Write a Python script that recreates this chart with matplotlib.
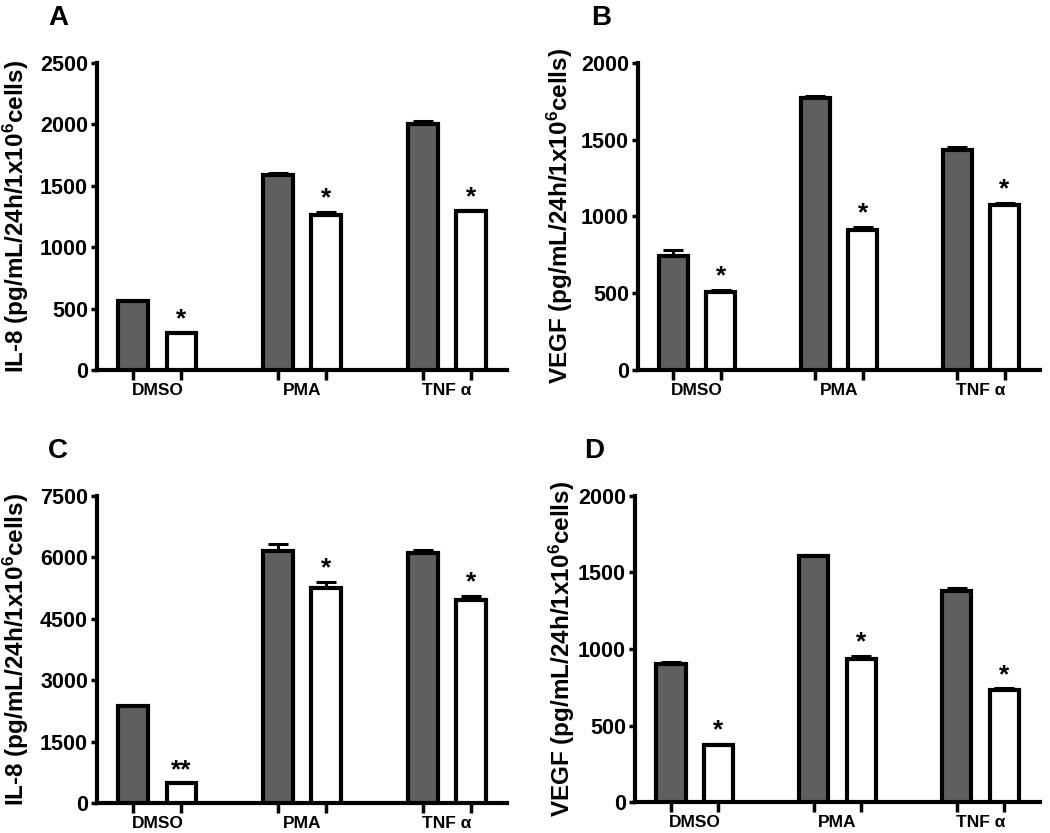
import numpy as np
import matplotlib
matplotlib.use("Agg")
import matplotlib.pyplot as plt

plt.rcParams['font.family'] = ['Liberation Sans', 'DejaVu Sans']
plt.rcParams['font.weight'] = 'bold'
plt.rcParams['mathtext.default'] = 'regular'

groups = ['DMSO', 'PMA', 'TNF α']

# panel A: IL-8
a_gray = [560, 1590, 2000]
a_gray_err = [0, 15, 25]
a_white = [305, 1265, 1295]
a_white_err = [0, 25, 5]
a_marks = ['*', '*', '*']

# panel B: VEGF
b_gray = [740, 1770, 1430]
b_gray_err = [40, 15, 25]
b_white = [508, 912, 1075]
b_white_err = [12, 20, 12]
b_marks = ['*', '*', '*']

# panel C: IL-8
c_gray = [2375, 6150, 6095]
c_gray_err = [0, 170, 95]
c_white = [480, 5255, 4955]
c_white_err = [0, 150, 100]
c_marks = ['**', '*', '*']

# panel D: VEGF
d_gray = [905, 1605, 1382]
d_gray_err = [8, 10, 15]
d_white = [372, 937, 732]
d_white_err = [8, 15, 10]
d_marks = ['*', '*', '*']

il8_label = 'IL-8 (pg/mL/24h/1x10$^6$cells)'
vegf_label = 'VEGF (pg/mL/24h/1x10$^6$cells)'

fig = plt.figure(figsize=(10.5, 8.33), dpi=100)

panels = [
    ('A', [0.0924, 0.5558, 0.3906, 0.3686], a_gray, a_gray_err, a_white, a_white_err, a_marks,
     2500, [0, 500, 1000, 1500, 2000, 2500], il8_label, (48, 25), -0.161),
    ('B', [0.6076, 0.5558, 0.3829, 0.3686], b_gray, b_gray_err, b_white, b_white_err, b_marks,
     2000, [0, 500, 1000, 1500, 2000], vegf_label, (591, 25), -0.157),
    ('C', [0.0924, 0.0360, 0.3906, 0.3686], c_gray, c_gray_err, c_white, c_white_err, c_marks,
     7500, [0, 1500, 3000, 4500, 6000, 7500], il8_label, (48, 458), -0.161),
    ('D', [0.6048, 0.0372, 0.3857, 0.3674], d_gray, d_gray_err, d_white, d_white_err, d_marks,
     2000, [0, 500, 1000, 1500, 2000], vegf_label, (584, 458), -0.143),
]

lw = 3.0
for letter, rect, gray, gerr, white, werr, marks, ymax, yticks, ylab, lpos, lx in panels:
    ax = fig.add_axes(rect)
    x = np.arange(len(groups)) * 3
    w = 0.62
    zeros = np.zeros(len(groups))
    ax.bar(x, gray, w, color='#5f5f5f', edgecolor='black', linewidth=lw, zorder=3)
    ax.bar(x + 1, white, w, color='white', edgecolor='black', linewidth=lw, zorder=3)
    ax.errorbar(x, gray, yerr=[zeros, gerr], fmt='none', ecolor='black',
                elinewidth=2.2, capsize=7, capthick=2.2, zorder=2)
    ax.errorbar(x + 1, white, yerr=[zeros, werr], fmt='none', ecolor='black',
                elinewidth=2.2, capsize=7, capthick=2.2, zorder=2)
    for xi, v, e, m in zip(x + 1, white, werr, marks):
        ax.text(xi, v + e + ymax * 0.005, m, ha='center', va='bottom',
                fontsize=19, fontweight='bold')

    ax.set_xlim(-0.75, 7.75)
    ax.set_ylim(0, ymax)
    ax.set_yticks(yticks)
    ax.set_xticks(np.concatenate([x, x + 1]))
    ax.set_xticklabels([])
    ax.set_xticks(x + 0.5, minor=True)
    ax.set_xticklabels(groups, minor=True, fontsize=12.5, fontweight='bold')
    ax.tick_params(axis='x', which='major', direction='out', length=7, width=2.5)
    ax.tick_params(axis='x', which='minor', length=0, pad=9)
    ax.tick_params(axis='y', direction='out', length=4.5, width=2.5, labelsize=15.5, pad=2)
    for t in ax.get_yticklabels():
        t.set_fontweight('bold')
    for s in ['top', 'right']:
        ax.spines[s].set_visible(False)
    for s in ['left', 'bottom']:
        ax.spines[s].set_linewidth(lw)
    ax.set_ylabel(ylab, fontsize=17.5, fontweight='bold')
    ax.yaxis.set_label_coords(lx, 0.5)
    fig.text(lpos[0] / 1050, 1 - lpos[1] / 833, letter, fontsize=20, fontweight='bold',
             ha='left', va='baseline')

fig.savefig('out.png', dpi=100)
